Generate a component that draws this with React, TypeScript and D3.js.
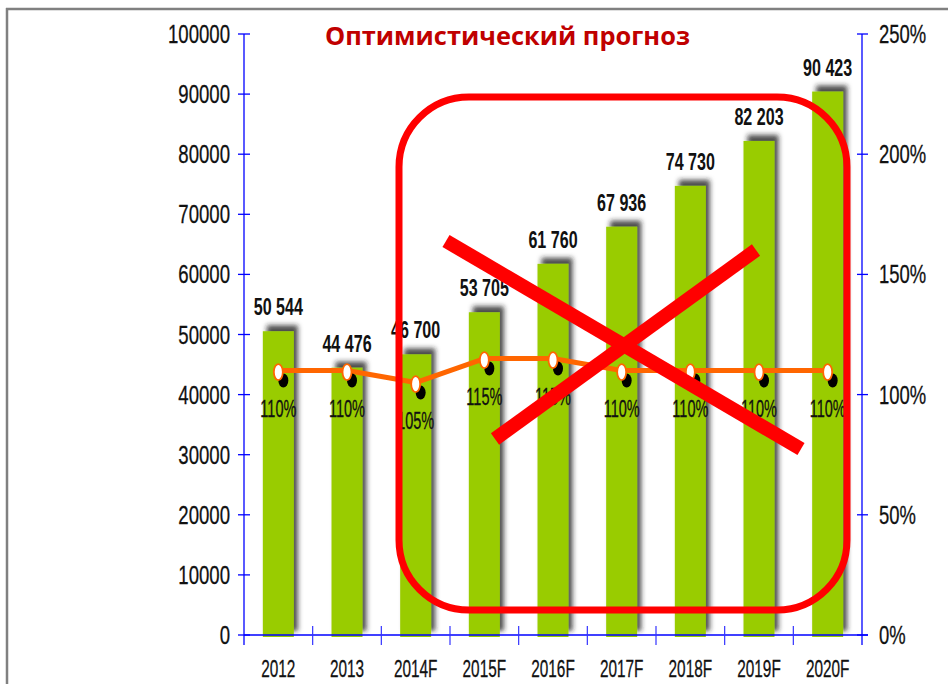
import React from "react";
import * as d3 from "d3";

const categories = ["2012", "2013", "2014F", "2015F", "2016F", "2017F", "2018F", "2019F", "2020F"];
const volumes = [50544, 44476, 46700, 53705, 61760, 67936, 74730, 82203, 90423];
const volumeLabels = ["50 544", "44 476", "46 700", "53 705", "61 760", "67 936", "74 730", "82 203", "90 423"];
const growth = [110, 110, 105, 115, 115, 110, 110, 110, 110];
const leftTicks = [0, 10000, 20000, 30000, 40000, 50000, 60000, 70000, 80000, 90000, 100000];
const rightTicks = [0, 50, 100, 150, 200, 250];
const title = "Оптимистический прогноз";

const W = 948;
const H = 684;
const X0 = 244;
const X1 = 862;
const Y0 = 635;
const Y1 = 34;

const FONT = "'Liberation Sans', Arial, sans-serif";

function Txt(props: {
  x: number; y: number; text: string; fs: number; sx: number;
  anchor?: string; weight?: string | number; fill?: string;
}) {
  const { x, y, text, fs, sx, anchor = "middle", weight = "normal", fill = "#111" } = props;
  return (
    <text
      transform={`translate(${x},${y}) scale(${sx},1)`}
      textAnchor={anchor as any}
      fontFamily={FONT}
      fontSize={fs}
      fontWeight={weight}
      fill={fill}
      stroke={weight === "bold" ? "none" : fill}
      strokeWidth={weight === "bold" ? 0 : 0.3}
    >
      {text}
    </text>
  );
}

export default function App() {
  const x = d3.scaleBand<string>().domain(categories).range([X0, X1]).paddingInner(0).paddingOuter(0);
  const yL = d3.scaleLinear().domain([0, 100000]).range([Y0, Y1]);
  const yR = d3.scaleLinear().domain([0, 250]).range([Y0, Y1]);
  const barW = 31;
  const cx = (c: string) => (x(c) as number) + x.bandwidth() / 2;

  const lineGen = d3
    .line<number>()
    .x((_, i) => cx(categories[i]))
    .y((d) => yR(d));

  return (
    <svg
      width={W}
      height={H}
      viewBox={`0 0 ${W} ${H}`}
      style={{ position: "absolute", left: 0, top: 0, background: "#fff" }}
    >
      <defs>
        <filter id="barShadow" x="-50%" y="-10%" width="200%" height="120%">
          <feDropShadow dx={4} dy={-6} stdDeviation={2.5} floodColor="#222" floodOpacity={0.8} />
        </filter>
      </defs>
      <rect x={0} y={0} width={W} height={H} fill="#fff" />
      {/* frame */}
      <line x1={6} y1={9} x2={W} y2={9} stroke="#808080" strokeWidth={2.5} />
      <line x1={7} y1={8} x2={7} y2={H} stroke="#808080" strokeWidth={2.5} />

      {/* bars */}
      {volumes.map((v, i) => (
        <rect
          key={"b" + i}
          x={cx(categories[i]) - barW / 2}
          y={yL(v)}
          width={barW}
          height={Y0 + 2 - yL(v)}
          fill="#99cc00"
          filter="url(#barShadow)"
        />
      ))}
      {volumes.map((v, i) => (
        <Txt key={"vl" + i} x={cx(categories[i])} y={yL(v) - 16} text={volumeLabels[i]} fs={24} sx={0.67} weight="bold" />
      ))}

      {/* line */}
      <path d={lineGen(growth) || ""} fill="none" stroke="#ff6600" strokeWidth={5} strokeLinejoin="round" />
      {growth.map((g, i) => (
        <ellipse key={"ms" + i} cx={cx(categories[i]) + 5} cy={yR(g) + 10} rx={5} ry={7} fill="#000" />
      ))}
      {growth.map((g, i) => (
        <ellipse key={"m" + i} cx={cx(categories[i])} cy={yR(g) + 1.5} rx={4.5} ry={8} fill="#fff" stroke="#ff6600" strokeWidth={1.8} />
      ))}
      {growth.map((g, i) => (
        <Txt key={"pl" + i} x={cx(categories[i])} y={yR(g) + 46} text={`${g}%`} fs={23} sx={0.63} />
      ))}

      {/* axes */}
      <line x1={X0} y1={Y1} x2={X0} y2={Y0 + 10} stroke="#0000ff" strokeWidth={1.3} />
      <line x1={X1} y1={Y1} x2={X1} y2={Y0 + 10} stroke="#0000ff" strokeWidth={1.3} />
      <line x1={X0} y1={Y0} x2={X1 + 6} y2={Y0} stroke="#0000ff" strokeWidth={1.3} />
      {leftTicks.map((t) => (
        <g key={"lt" + t}>
          <line x1={X0 - 6} x2={X0 + 6} y1={yL(t)} y2={yL(t)} stroke="#0000ff" strokeWidth={1.3} />
          <Txt x={230} y={yL(t) + 9} text={String(t)} fs={26} sx={0.715} anchor="end" />
        </g>
      ))}
      {rightTicks.map((t) => (
        <g key={"rt" + t}>
          <line x1={X1 - 5} x2={X1 + 6} y1={yR(t)} y2={yR(t)} stroke="#0000ff" strokeWidth={1.3} />
          <Txt x={879} y={yR(t) + 9} text={`${t}%`} fs={26} sx={0.71} anchor="start" />
        </g>
      ))}
      {categories.slice(1).map((c) => (
        <line key={"xt" + c} x1={x(c) as number} x2={x(c) as number} y1={Y0 - 9} y2={Y0 + 10} stroke="#3333ff" strokeWidth={1.2} />
      ))}
      {categories.map((c) => (
        <Txt key={"xl" + c} x={cx(c)} y={677} text={c} fs={24} sx={0.64} />
      ))}

      {/* title */}
      <text
        x={507.5}
        y={45}
        textAnchor="middle"
        fontFamily="'Open Sans', 'Noto Sans', sans-serif"
        fontWeight="bold"
        fontSize={25}
        fill="#c00000"
        textLength={365}
        lengthAdjust="spacingAndGlyphs"
      >
        {title}
      </text>

      {/* red annotation */}
      <rect x={399} y={97} width={448} height={513} rx={70} ry={70} fill="none" stroke="#ff0000" strokeWidth={7} />
      <line x1={446} y1={241} x2={801} y2={449} stroke="#ff0000" strokeWidth={14} />
      <line x1={495} y1={439} x2={756} y2={250} stroke="#ff0000" strokeWidth={14} />
    </svg>
  );
}
